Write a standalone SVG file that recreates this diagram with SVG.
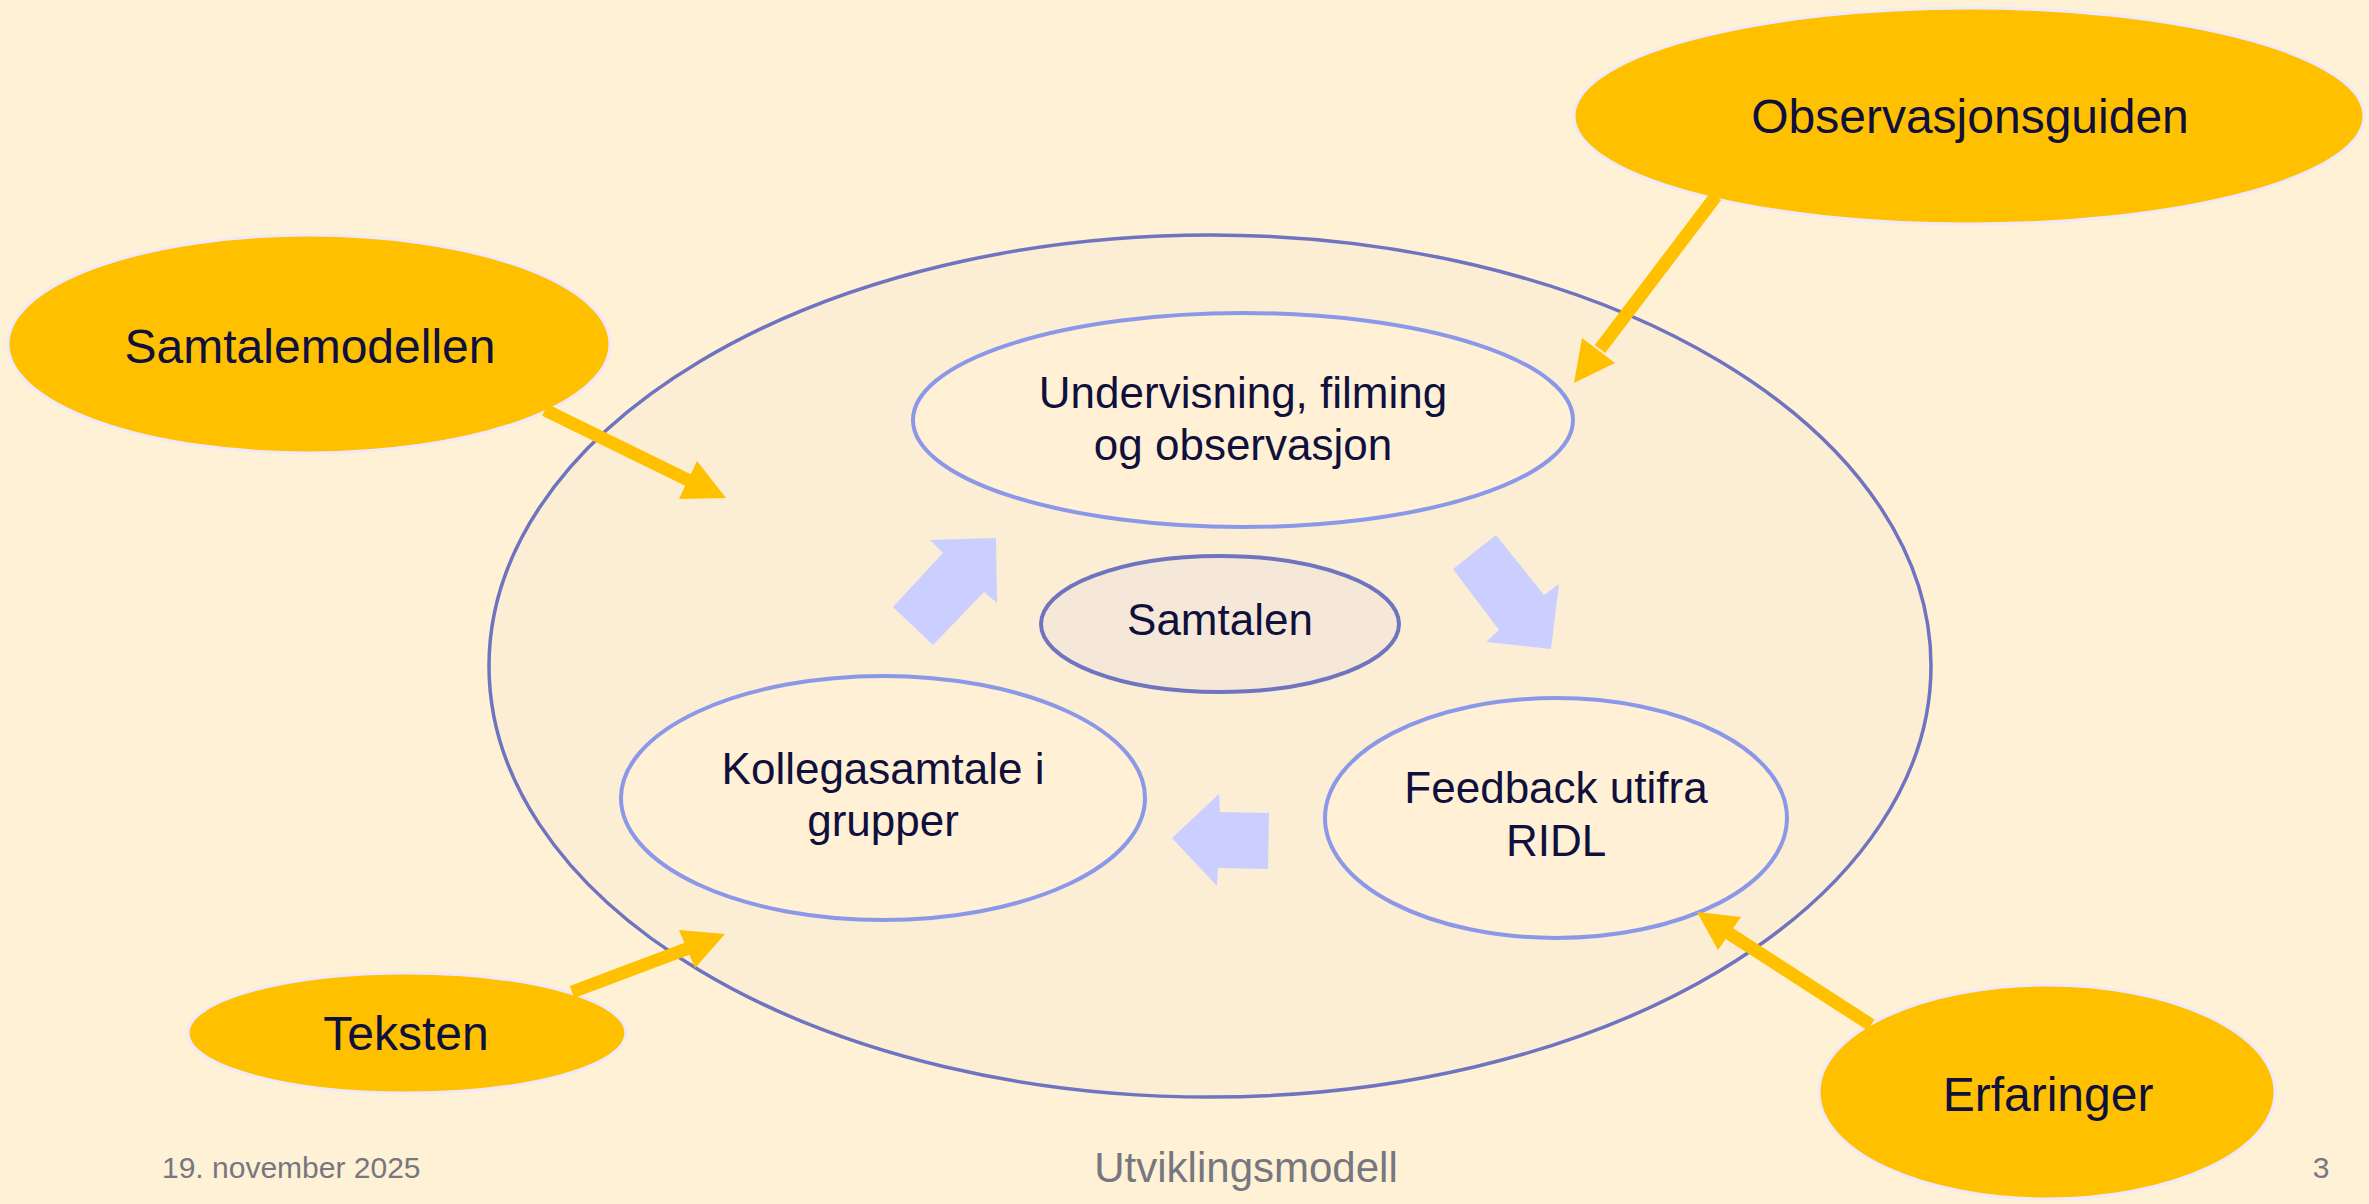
<svg xmlns="http://www.w3.org/2000/svg" width="2369" height="1204" viewBox="0 0 2369 1204">
  <defs>
    <style>
      .lbl { font-family: "Liberation Sans", Arial, sans-serif; fill: #10103C; text-anchor: middle; }
      .big { font-size: 48px; }
      .mid { font-size: 44px; }
      .foot { font-family: "Liberation Sans", Arial, sans-serif; fill: #77777F; }
      .yel { fill: #FFC000; stroke: #F1E9F6; stroke-width: 3; }
      .inner { fill: #FFF0D6; stroke: #8B98E8; stroke-width: 4; }
      .shaft { stroke: #FFC000; stroke-width: 13; fill: none; }
      .head { fill: #FFC000; }
      .block { fill: #CBCFFF; }
    </style>
  </defs>
  <rect width="2369" height="1204" fill="#FFF1D6"/>

  <g id="outer">
    <ellipse cx="1210" cy="666" rx="721" ry="431" fill="#FCEDD5" stroke="#6E74BF" stroke-width="3.5"/>
  </g>

  <g id="node-undervisning">
    <ellipse class="inner" cx="1243" cy="420" rx="330" ry="107"/>
    <text class="lbl mid" x="1243" y="408">Undervisning, filming</text>
    <text class="lbl mid" x="1243" y="460">og observasjon</text>
  </g>

  <g id="node-samtalen">
    <ellipse cx="1220" cy="624" rx="179" ry="68" fill="#F6E8D8" stroke="#6E74BF" stroke-width="4"/>
    <text class="lbl mid" x="1220" y="635">Samtalen</text>
  </g>

  <g id="node-kollega">
    <ellipse class="inner" cx="883" cy="798" rx="262" ry="122"/>
    <text class="lbl mid" x="883" y="784">Kollegasamtale i</text>
    <text class="lbl mid" x="883" y="836">grupper</text>
  </g>

  <g id="node-feedback">
    <ellipse class="inner" cx="1556" cy="818" rx="231" ry="120"/>
    <text class="lbl mid" x="1556" y="803">Feedback utifra</text>
    <text class="lbl mid" x="1556" y="856">RIDL</text>
  </g>

  <g id="node-observasjonsguiden">
    <ellipse class="yel" cx="1969" cy="116" rx="395" ry="108"/>
    <text class="lbl big" x="1970" y="133">Observasjonsguiden</text>
  </g>

  <g id="node-samtalemodellen">
    <ellipse class="yel" cx="309" cy="344" rx="301" ry="109"/>
    <text class="lbl big" x="310" y="363" font-size="50">Samtalemodellen</text>
  </g>

  <g id="node-teksten">
    <ellipse class="yel" cx="407" cy="1033" rx="219" ry="60"/>
    <text class="lbl big" x="406" y="1050">Teksten</text>
  </g>

  <g id="node-erfaringer">
    <ellipse class="yel" cx="2047" cy="1092" rx="228" ry="107"/>
    <text class="lbl big" x="2048" y="1111">Erfaringer</text>
  </g>

  <g id="connectors">
    <polygon class="block" points="893,607 943,553 930,540 996,538 997,603 984,592 933,645"/>
    <polygon class="block" points="1453,569 1496,535 1544,595 1559,584 1551,649 1486,642 1499,630"/>
    <polygon class="block" points="1172,838 1219,794 1220,812 1269,813 1268,869 1218,868 1217,886"/>

    <line class="shaft" x1="545" y1="410" x2="690" y2="481"/>
    <polygon class="head" points="697,461 726,498 679,499"/>

    <line class="shaft" x1="1716" y1="196" x2="1600" y2="349"/>
    <polygon class="head" points="1582,338 1615,363 1574,383"/>

    <line class="shaft" x1="572" y1="992" x2="689" y2="948"/>
    <polygon class="head" points="679,930 725,934 695,968"/>

    <line class="shaft" x1="1871" y1="1025" x2="1727" y2="932"/>
    <polygon class="head" points="1741,917 1697,912 1718,950"/>
  </g>

  <g id="footer">
    <text class="foot" x="162" y="1178" font-size="30">19. november 2025</text>
    <text class="foot" x="1246" y="1182" font-size="42" text-anchor="middle">Utviklingsmodell</text>
    <text class="foot" x="2321" y="1178" font-size="30" text-anchor="middle">3</text>
  </g>
</svg>
